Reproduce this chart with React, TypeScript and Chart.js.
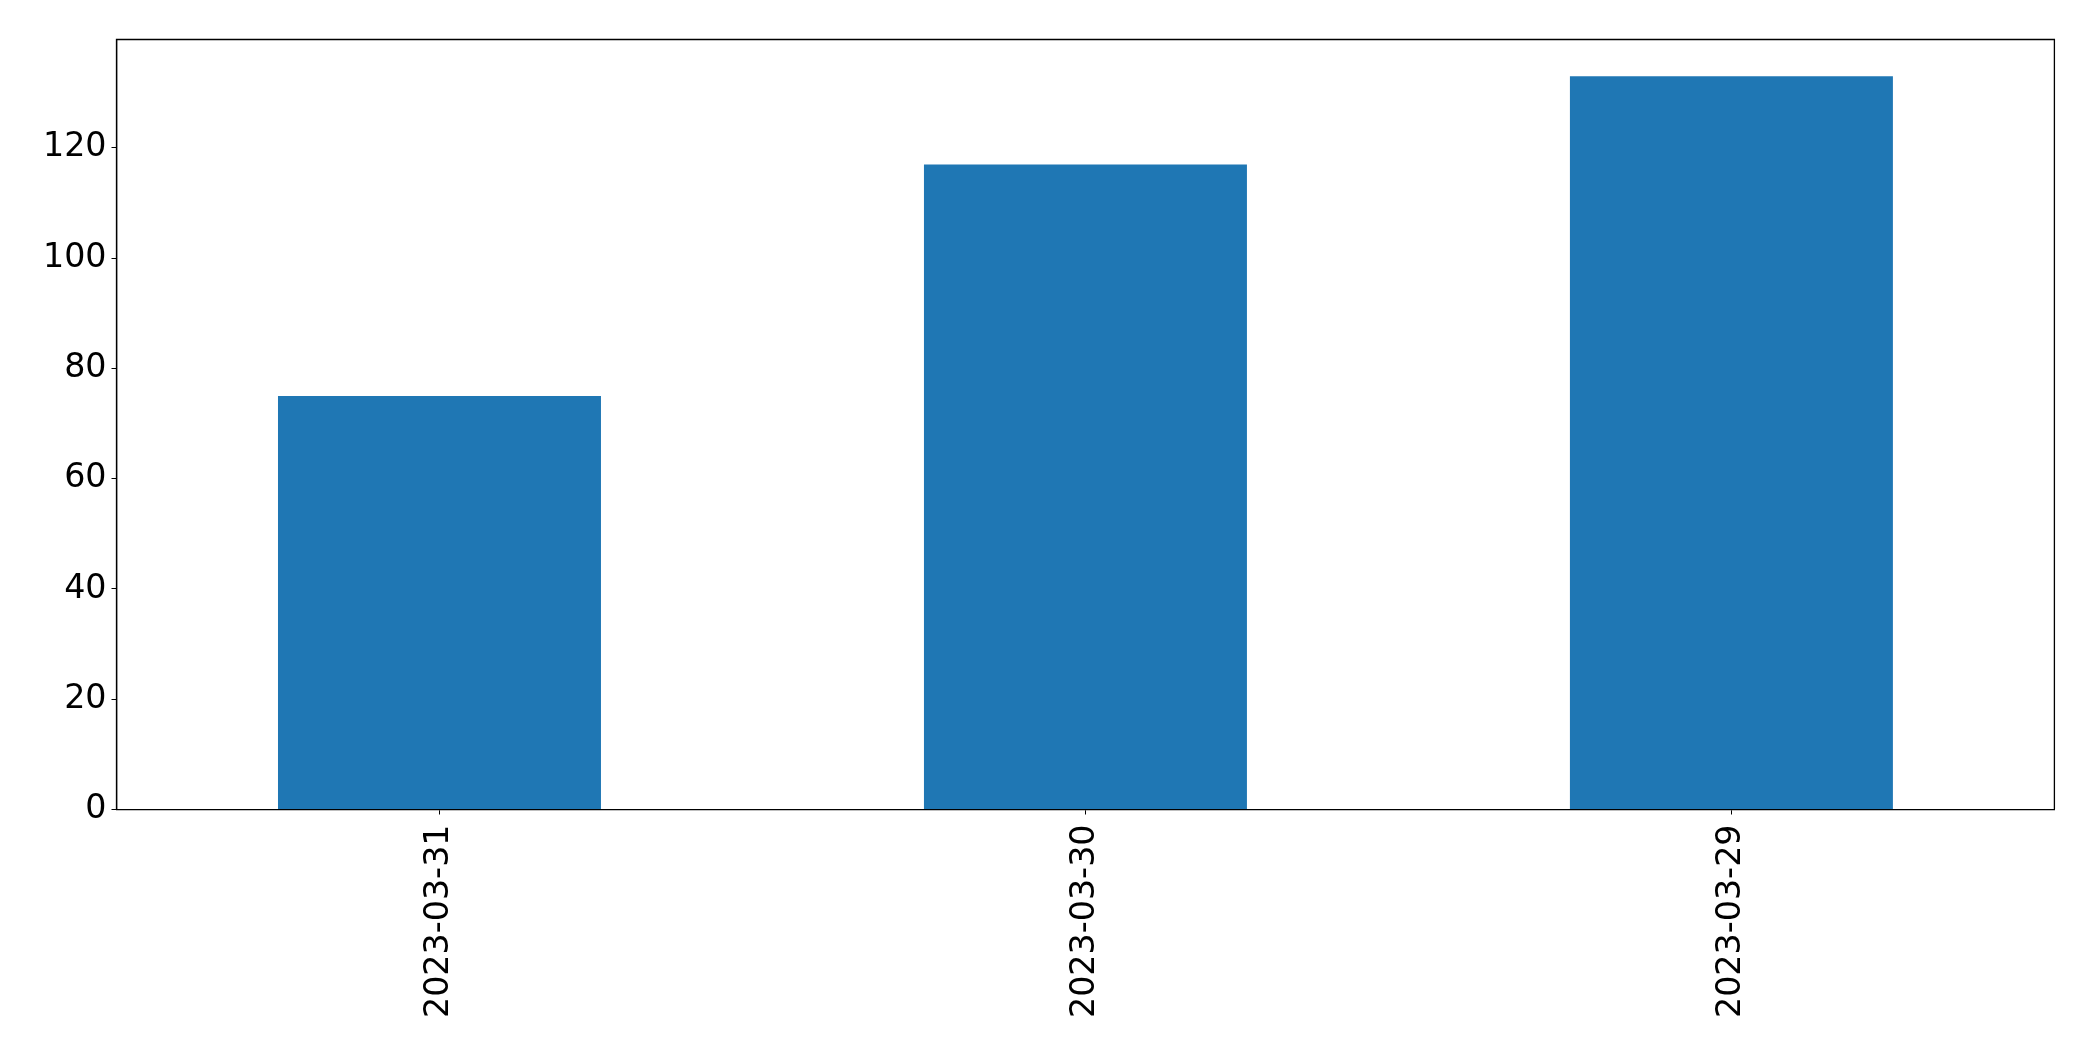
import React, { useEffect, useRef } from "react";
import { Chart, registerables } from "chart.js";

Chart.register(...registerables);

const DATES = ["2023-03-31", "2023-03-30", "2023-03-29"];
const COUNTS = [75, 117, 133];
const Y_TICKS = [0, 20, 40, 60, 80, 100, 120];

const FONT = "'DejaVu Sans', sans-serif";

export default function App() {
  const canvasRef = useRef<HTMLCanvasElement>(null);
  const chartRef = useRef<Chart | null>(null);

  useEffect(() => {
    document.body.style.margin = "0";
    if (!canvasRef.current) return;
    chartRef.current?.destroy();

    const yMax = Math.max(...COUNTS) * 1.05;

    chartRef.current = new Chart(canvasRef.current, {
      type: "bar",
      data: {
        labels: DATES,
        datasets: [
          {
            data: COUNTS,
            backgroundColor: "#1f77b4",
            borderWidth: 0,
            barPercentage: 0.5,
            categoryPercentage: 1.0,
          },
        ],
      },
      options: {
        animation: false,
        responsive: false,
        maintainAspectRatio: false,
        devicePixelRatio: 1,
        layout: { padding: { top: 39.5, right: 38.6, left: 0, bottom: 0 } },
        plugins: { legend: { display: false }, tooltip: { enabled: false } },
        scales: {
          x: {
            offset: true,
            afterFit: (scale) => {
              scale.height = 251.5;
            },
            ticks: {
              color: "#000",
              font: { size: 33.3, family: FONT },
              minRotation: 90,
              maxRotation: 90,
              padding: 10,
            },
            grid: {
              drawOnChartArea: false,
              drawTicks: true,
              tickLength: 5,
              color: "#000",
              offset: false,
            },
            border: { color: "#000", width: 1.3 },
          },
          y: {
            min: 0,
            max: yMax,
            afterFit: (scale) => {
              scale.width = 116.5;
            },
            afterBuildTicks: (scale) => {
              scale.ticks = Y_TICKS.map((v) => ({ value: v }));
            },
            ticks: {
              color: "#000",
              font: { size: 33.3, family: FONT },
              padding: 5,
            },
            grid: {
              drawOnChartArea: false,
              drawTicks: true,
              tickLength: 5,
              color: "#000",
            },
            border: { color: "#000", width: 1.3 },
          },
        },
      },
      plugins: [
        {
          id: "frame",
          afterDraw: (chart) => {
            const { ctx } = chart;
            const { left, right, top, bottom } = chart.chartArea;
            ctx.save();
            ctx.strokeStyle = "#000";
            ctx.lineWidth = 1.3;
            ctx.beginPath();
            ctx.moveTo(left, bottom);
            ctx.lineTo(left, top);
            ctx.lineTo(right, top);
            ctx.lineTo(right, bottom);
            ctx.stroke();
            ctx.restore();
          },
        },
      ],
    });

    return () => {
      chartRef.current?.destroy();
      chartRef.current = null;
    };
  }, []);

  return (
    <div style={{ width: 2093, height: 1061, background: "#fff" }}>
      <canvas ref={canvasRef} width={2093} height={1061} />
    </div>
  );
}
